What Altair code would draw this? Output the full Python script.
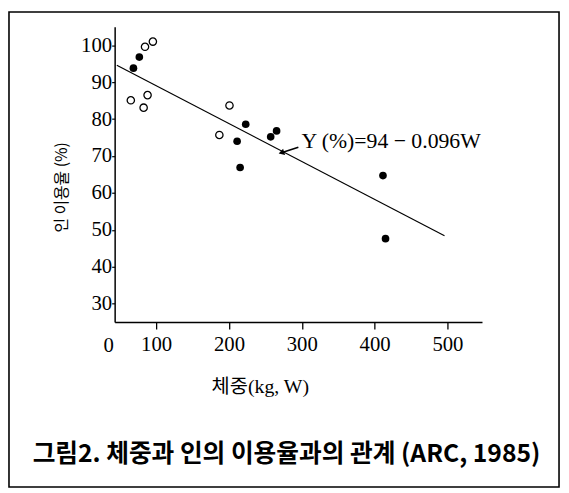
import altair as alt
import pandas as pd

# Data
weight = [68.8, 76.9, 84.7, 95.5, 65.2, 82.8, 88.2, 200.7, 186.8, 223.0, 211.2, 215.3, 257.3, 265.4, 411.5, 415.0]
util = [93.8, 96.8, 99.6, 101.0, 85.1, 83.1, 86.5, 83.7, 75.7, 78.6, 74.0, 66.9, 75.2, 76.8, 64.7, 47.6]
kind = ["filled", "filled", "open", "open", "open", "open", "open", "open", "open",
        "filled", "filled", "filled", "filled", "filled", "filled", "filled"]

line_w = [46, 496]
line_y = [94.6, 48.4]

arrow_w = [295.3, 272.0]
arrow_y = [72.4, 70.9]

eq_text = "Y (%)=94 − 0.096W"
eq_w = 299.5
eq_y = 74.0

x_ticks = [100, 200, 300, 400, 500]
y_ticks = [30, 40, 50, 60, 70, 80, 90, 100]

caption = "그림2. 체중과 인의 이용율과의 관계 (ARC, 1985)"

W, H = 372, 299
XDOM = [43, 547.5]
YDOM = [25, 105]

pts = pd.DataFrame({"w": weight, "u": util, "k": kind})
xs = alt.Scale(domain=XDOM, nice=False, zero=False)
ys = alt.Scale(domain=YDOM, nice=False, zero=False)

xaxis = alt.Axis(values=x_ticks, title="체중(kg, W)", grid=False, domainColor="black",
                 domainWidth=1.5, tickColor="black", tickSize=7, tickWidth=1.3,
                 labelFont="Liberation Serif", labelFontSize=21, labelColor="black",
                 labelPadding=5, titleFont="Liberation Serif, Noto Sans CJK KR",
                 titleFontSize=20, titleFontWeight="normal", titleColor="black",
                 titleX=147, titleY=65, titleBaseline="middle", titleAlign="center")
yaxis = alt.Axis(values=y_ticks, title="인 이용율 (%)", grid=False, domainColor="black",
                 domainWidth=1.5, tickColor="black", tickSize=3, tickWidth=1.2,
                 labelFont="Liberation Serif", labelFontSize=21, labelColor="black",
                 labelPadding=0, titleFont="Noto Sans CJK KR", titleFontSize=16,
                 titleFontWeight="normal", titleColor="#000000", titleAngle=270,
                 titleX=-54, titleY=162, titleAlign="center", titleBaseline="middle")

base_pts = alt.Chart(pts)
open_pts = base_pts.transform_filter(alt.datum.k == "open").mark_point(
    shape="circle", filled=False, stroke="black", strokeWidth=1.3, size=55, opacity=1
).encode(x=alt.X("w:Q", scale=xs, axis=xaxis), y=alt.Y("u:Q", scale=ys, axis=yaxis))
filled_pts = base_pts.transform_filter(alt.datum.k == "filled").mark_point(
    shape="circle", filled=True, fill="black", size=60, opacity=1
).encode(x=alt.X("w:Q", scale=xs), y=alt.Y("u:Q", scale=ys))

reg = alt.Chart(pd.DataFrame({"w": line_w, "u": line_y})).mark_line(
    color="black", strokeWidth=1.2
).encode(x=alt.X("w:Q", scale=xs), y=alt.Y("u:Q", scale=ys))

arr_df = pd.DataFrame({"w": [arrow_w[0]], "u": [arrow_y[0]], "w2": [arrow_w[1]], "u2": [arrow_y[1]]})
arrow_line = alt.Chart(arr_df).mark_rule(color="black", strokeWidth=1.6).encode(
    x=alt.X("w:Q", scale=xs), y=alt.Y("u:Q", scale=ys), x2="w2:Q", y2="u2:Q")
arrow_head = alt.Chart(arr_df).mark_point(
    shape="triangle-left", filled=True, fill="black", size=45, angle=342, opacity=1
).encode(x=alt.X("w2:Q", scale=xs), y=alt.Y("u2:Q", scale=ys))

eq = alt.Chart(pd.DataFrame({"w": [eq_w], "u": [eq_y], "t": [eq_text]})).mark_text(
    align="left", baseline="middle", font="Liberation Serif", fontSize=22, color="black"
).encode(x=alt.X("w:Q", scale=xs), y=alt.Y("u:Q", scale=ys), text="t:N")

one = pd.DataFrame({"a": [0]})
origin = alt.Chart(one).mark_text(
    text="0", font="Liberation Serif", fontSize=21, color="black", align="center", baseline="middle"
).encode(x=alt.value(-6), y=alt.value(H + 24))

cap = alt.Chart(one).mark_text(
    text=caption, font="Noto Sans CJK KR", fontSize=25, fontWeight="bold", color="black",
    align="center", baseline="middle"
).encode(x=alt.value(174), y=alt.value(433))

frame = alt.Chart(one).mark_rect(fill="transparent", stroke="black", strokeWidth=1.6).encode(
    x=alt.value(-107), x2=alt.value(450), y=alt.value(-15), y2=alt.value(466))

chart = alt.layer(frame, reg, open_pts, filled_pts, arrow_line, arrow_head, eq, origin, cap).properties(
    width=W, height=H,
    padding={"left": 108, "top": 16, "right": 80, "bottom": 170},
    autosize=alt.AutoSizeParams(type="none"),
    background="white",
).configure_view(stroke=None)

chart.save("out.html", embed_options={"renderer": "svg", "actions": False})
